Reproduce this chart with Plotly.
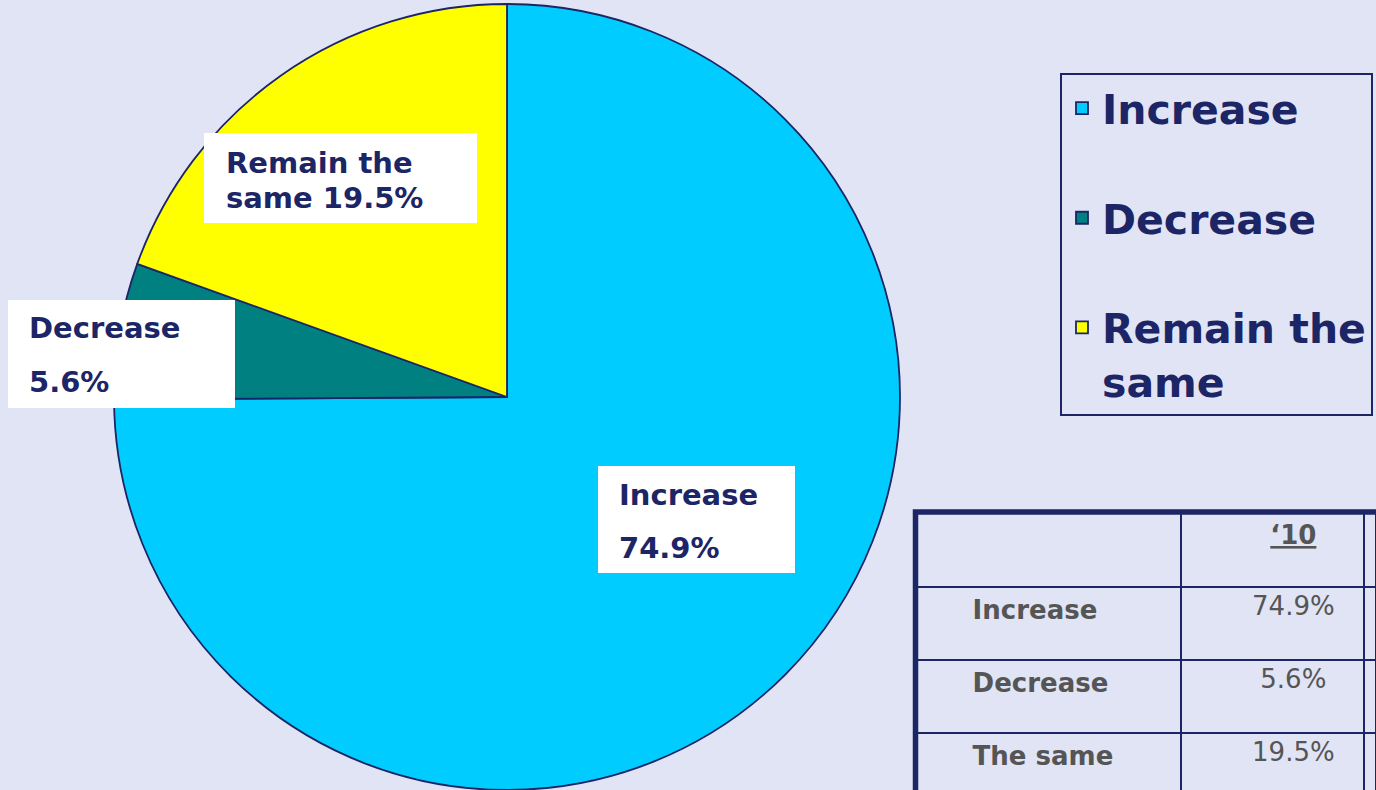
import plotly.graph_objects as go

W, H = 1376, 790

# ---- data ----
categories = ["Increase", "Decrease", "Remain the same"]
legend_labels = ["Increase<br> ", "Decrease<br> ", "Remain the<br>same"]
values = [74.9, 5.6, 19.5]
table_rows = ["Increase", "Decrease", "The same"]
table_year = "‘10"

BG = "#E0E4F4"
NAVY = "#1C2565"
GRAY = "#555555"
colors = ["#00CCFF", "#008080", "#FFFF00"]
FONT = "DejaVu Sans"


def fx(p):
    return p / W


def fy(p):
    return 1 - p / H


fig = go.Figure()

fig.add_trace(go.Pie(
    labels=legend_labels,
    values=values,
    sort=False,
    direction="clockwise",
    rotation=0,
    marker=dict(colors=colors, line=dict(color=NAVY, width=1.8)),
    textinfo="none",
    hoverinfo="skip",
    domain=dict(x=[fx(113), fx(901)], y=[0, fy(4)]),
    showlegend=True,
))

fig.add_trace(go.Table(
    domain=dict(x=[fx(915), 1], y=[0, fy(512)]),
    columnwidth=[268, 184, 12],
    header=dict(
        values=["", f"<b><u>{table_year}</u></b>", ""],
        prefix=["", "\u00a0" * 5, ""],
        fill=dict(color=BG),
        line=dict(color=NAVY, width=2),
        font=dict(family=FONT, size=26, color=GRAY),
        align=["left", "center", "center"],
        height=75,
    ),
    cells=dict(
        values=[["<b>" + r.replace(" ", "\u00a0") + "</b>" for r in table_rows],
                [f"{v}%" for v in values],
                ["", "", ""]],
        prefix=["\u00a0" * 6, "\u00a0" * 5, ""],
        fill=dict(color=BG),
        line=dict(color=NAVY, width=2),
        font=dict(family=FONT, size=26, color=GRAY),
        align=["left", "center", "center"],
        height=73,
    ),
))

# white label boxes on the pie
boxes = [(204, 133, 477, 223), (8, 300, 235, 408), (598, 466, 795, 573)]
shapes = []
for x0, y0, x1, y1 in boxes:
    shapes.append(dict(type="rect", xref="paper", yref="paper",
                       x0=fx(x0), x1=fx(x1), y0=fy(y0), y1=fy(y1),
                       fillcolor="white", line=dict(width=0), layer="above"))
# thick outer table border
shapes.append(dict(type="rect", xref="paper", yref="paper",
                   x0=fx(915.5), x1=fx(W + 20), y0=fy(512), y1=fy(H + 20),
                   fillcolor="rgba(0,0,0,0)", line=dict(color=NAVY, width=5.5),
                   layer="above"))

label_lines = [
    ("Remain the", 224, 163),
    (f"same {values[2]}%", 224, 198),
    (categories[1], 27, 328),
    (f"{values[1]}%", 27, 382),
    (categories[0], 617, 495),
    (f"{values[0]}%", 617, 548),
]
annotations = []
for t, x, y in label_lines:
    annotations.append(dict(text=t, x=fx(x), y=fy(y), xref="paper", yref="paper",
                            xanchor="left", yanchor="middle", showarrow=False,
                            font=dict(family=FONT, size=29, color=NAVY, weight="bold")))

fig.update_layout(
    width=W, height=H,
    margin=dict(l=0, r=0, t=0, b=0),
    paper_bgcolor=BG, plot_bgcolor=BG,
    shapes=shapes,
    annotations=annotations,
    legend=dict(
        x=fx(1060), y=fy(73), xanchor="left", yanchor="top",
        bgcolor=BG, bordercolor=NAVY, borderwidth=2,
        font=dict(family=FONT, size=41, color=NAVY, weight="bold"),
        valign="top",
    ),
)

fig.write_html(
    "out.html",
    config={"displayModeBar": False},
    post_script="document.body.style.margin='0';document.body.style.overflow='hidden';",
)
